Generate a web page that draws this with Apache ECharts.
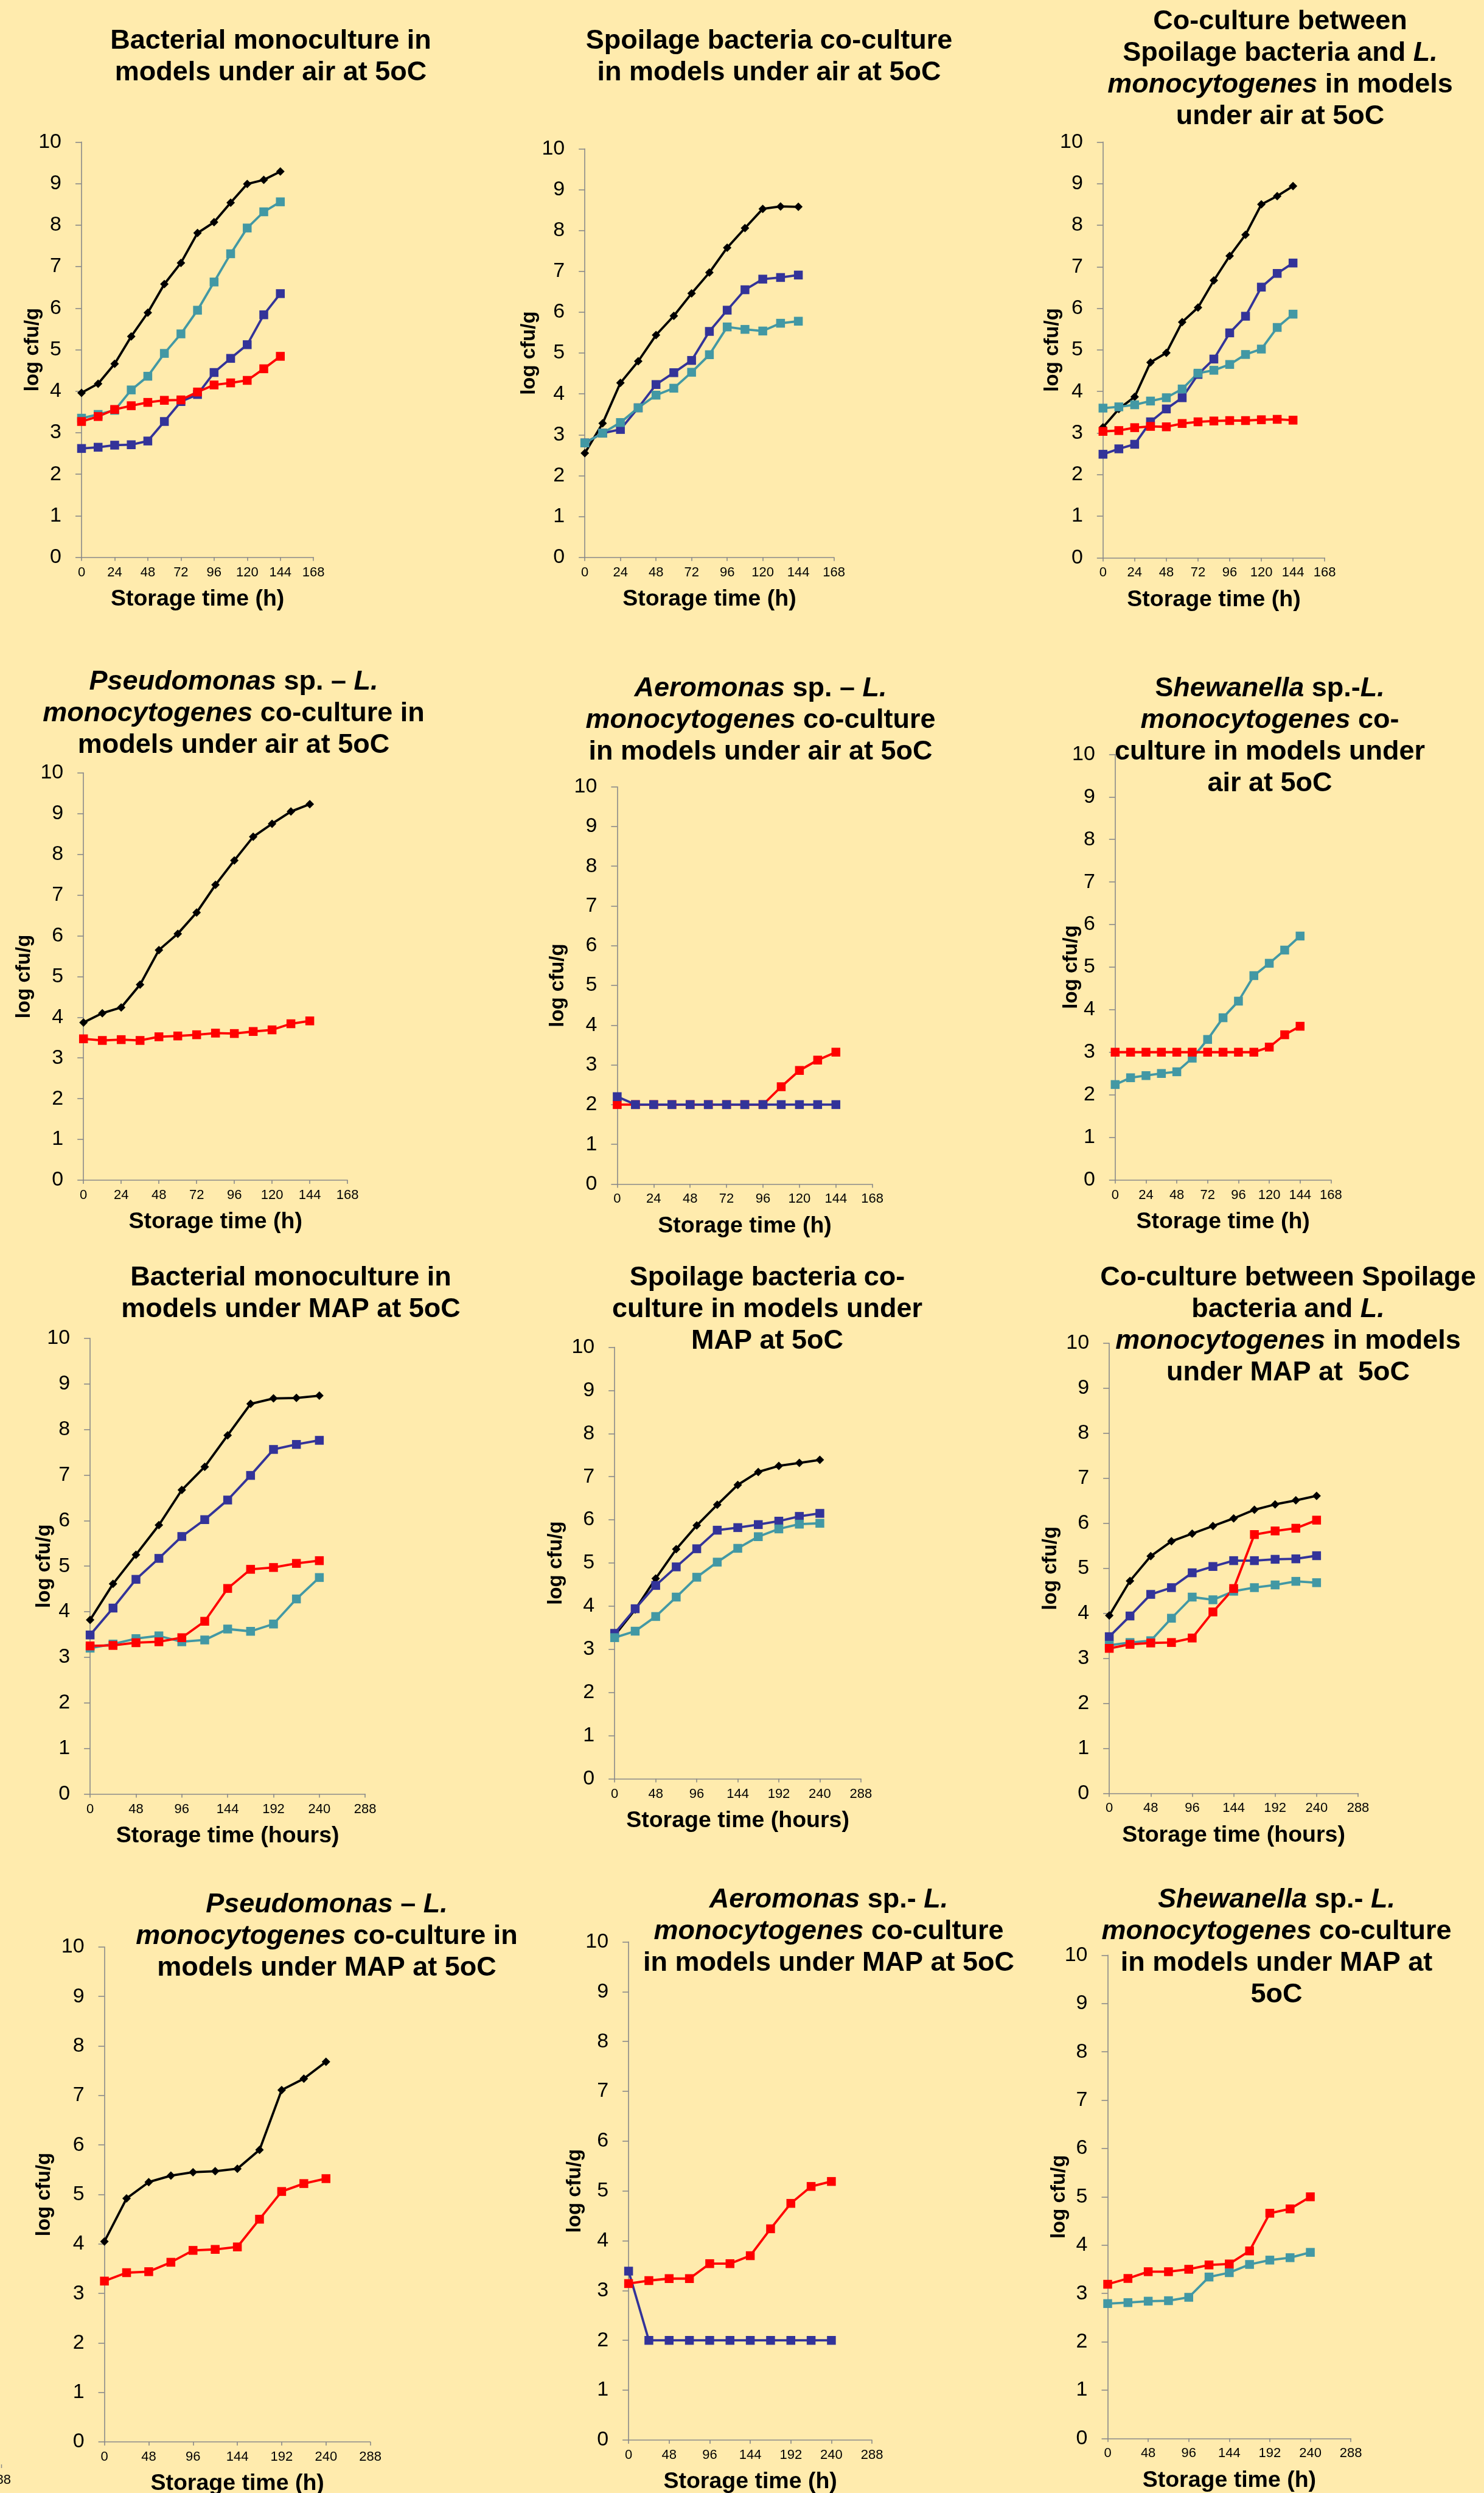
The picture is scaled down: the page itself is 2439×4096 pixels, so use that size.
<!DOCTYPE html>
<html><head><meta charset="utf-8">
<script src="https://cdn.jsdelivr.net/npm/echarts@6/dist/echarts.min.js"></script>
<style>html,body{margin:0;padding:0;background:#FFEBAD}#c{width:2439px;height:4096px}</style>
</head><body><div id="c"></div>
<script>
// ---------- DATA ----------
const tAir = [0, 12, 24, 36, 48, 60, 72, 84, 96, 108, 120, 132, 144];
const tMap = [0, 24, 48, 72, 96, 120, 144, 168, 192, 216, 240];
const xTicksAir = [0, 24, 48, 72, 96, 120, 144, 168];
const xTicksMap = [0, 48, 96, 144, 192, 240, 288];
const yTicks = [0, 1, 2, 3, 4, 5, 6, 7, 8, 9, 10];

const p1Black = [3.96, 4.18, 4.66, 5.32, 5.89, 6.58, 7.09, 7.81, 8.07, 8.54, 8.99, 9.09, 9.29];
const p1Blue  = [2.62, 2.65, 2.70, 2.71, 2.80, 3.27, 3.75, 3.92, 4.45, 4.79, 5.12, 5.84, 6.35];
const p1Teal  = [3.35, 3.44, 3.54, 4.03, 4.36, 4.91, 5.38, 5.95, 6.63, 7.31, 7.93, 8.32, 8.56];
const p1Red   = [3.27, 3.39, 3.56, 3.65, 3.73, 3.78, 3.79, 3.98, 4.15, 4.20, 4.26, 4.54, 4.84];

const p2Black = [2.55, 3.28, 4.27, 4.80, 5.44, 5.91, 6.46, 6.97, 7.58, 8.06, 8.53, 8.59, 8.58];
const p2Blue  = [2.80, 3.04, 3.13, 3.66, 4.23, 4.52, 4.82, 5.53, 6.05, 6.55, 6.81, 6.85, 6.91];
const p2Teal  = [2.80, 3.04, 3.30, 3.66, 3.97, 4.14, 4.53, 4.96, 5.64, 5.58, 5.54, 5.73, 5.78];

const p3Black = [3.14, 3.58, 3.87, 4.70, 4.93, 5.67, 6.02, 6.67, 7.26, 7.77, 8.50, 8.70, 8.94];
const p3Blue  = [2.49, 2.62, 2.73, 3.27, 3.58, 3.85, 4.41, 4.78, 5.41, 5.81, 6.51, 6.84, 7.09];
const p3Teal  = [3.60, 3.63, 3.68, 3.77, 3.85, 4.06, 4.44, 4.51, 4.65, 4.89, 5.02, 5.54, 5.86];
const p3Red   = [3.04, 3.06, 3.13, 3.16, 3.15, 3.23, 3.27, 3.29, 3.30, 3.30, 3.32, 3.33, 3.31];

const p4Black = [3.87, 4.10, 4.24, 4.80, 5.65, 6.05, 6.57, 7.25, 7.85, 8.43, 8.75, 9.05, 9.23];
const p4Red   = [3.47, 3.43, 3.45, 3.43, 3.52, 3.54, 3.57, 3.61, 3.60, 3.65, 3.69, 3.84, 3.91];

const p5Red   = [2.00, 2.00, 2.00, 2.00, 2.00, 2.00, 2.00, 2.00, 2.00, 2.45, 2.86, 3.12, 3.32];
const p5Blue  = [2.20, 2.00, 2.00, 2.00, 2.00, 2.00, 2.00, 2.00, 2.00, 2.00, 2.00, 2.00, 2.00];

const p6Teal  = [2.24, 2.40, 2.45, 2.50, 2.54, 2.86, 3.30, 3.81, 4.20, 4.80, 5.09, 5.40, 5.73];
const p6Red   = [3.00, 3.00, 3.00, 3.00, 3.00, 3.00, 3.00, 3.00, 3.00, 3.00, 3.12, 3.41, 3.61];

const p7Black = [3.82, 4.61, 5.25, 5.90, 6.67, 7.18, 7.87, 8.56, 8.68, 8.69, 8.74];
const p7Blue  = [3.49, 4.08, 4.71, 5.17, 5.65, 6.02, 6.45, 6.99, 7.56, 7.67, 7.76];
const p7Teal  = [3.20, 3.29, 3.41, 3.47, 3.34, 3.38, 3.62, 3.57, 3.73, 4.28, 4.75];
const p7Red   = [3.25, 3.26, 3.32, 3.34, 3.43, 3.79, 4.51, 4.93, 4.97, 5.06, 5.12];

const p8Black = [3.32, 3.92, 4.64, 5.32, 5.87, 6.35, 6.81, 7.11, 7.25, 7.32, 7.39];
const p8Blue  = [3.37, 3.94, 4.48, 4.91, 5.33, 5.76, 5.82, 5.89, 5.97, 6.08, 6.15];
const p8Teal  = [3.27, 3.42, 3.76, 4.21, 4.67, 5.02, 5.34, 5.61, 5.79, 5.90, 5.92];

const p9Black = [3.95, 4.72, 5.27, 5.60, 5.77, 5.94, 6.11, 6.30, 6.42, 6.51, 6.61];
const p9Blue  = [3.48, 3.94, 4.42, 4.57, 4.90, 5.04, 5.17, 5.17, 5.20, 5.21, 5.28];
const p9Teal  = [3.29, 3.35, 3.39, 3.89, 4.36, 4.30, 4.49, 4.57, 4.63, 4.71, 4.68];
const p9Red   = [3.22, 3.31, 3.34, 3.35, 3.45, 4.03, 4.55, 5.75, 5.83, 5.89, 6.07];

const p10Black = [4.05, 4.92, 5.25, 5.38, 5.45, 5.47, 5.52, 5.90, 7.11, 7.34, 7.68];
const p10Red   = [3.25, 3.42, 3.44, 3.63, 3.87, 3.89, 3.94, 4.50, 5.06, 5.22, 5.32];

const p11Blue = [3.39, 2.00, 2.00, 2.00, 2.00, 2.00, 2.00, 2.00, 2.00, 2.00, 2.00];
const p11Red  = [3.14, 3.20, 3.24, 3.24, 3.54, 3.54, 3.70, 4.24, 4.75, 5.09, 5.19];

const p12Teal = [2.79, 2.81, 2.84, 2.85, 2.92, 3.34, 3.43, 3.60, 3.69, 3.74, 3.85];
const p12Red  = [3.19, 3.31, 3.45, 3.45, 3.50, 3.59, 3.61, 3.88, 4.66, 4.75, 5.00];

const titles = [
  'Bacterial monoculture in\nmodels under air at 5oC',
  'Spoilage bacteria co-culture\nin models under air at 5oC',
  'Co-culture between\nSpoilage bacteria and {i|L.}\n{i|monocytogenes} in models\nunder air at 5oC',
  '{i|Pseudomonas} sp. – {i|L.}\n{i|monocytogenes} co-culture in\nmodels under air at 5oC',
  '{i|Aeromonas} sp. – {i|L.}\n{i|monocytogenes} co-culture\nin models under air at 5oC',
  'S{i|hewanella} sp.-{i|L.}\n{i|monocytogenes} co-\nculture in models under\nair at 5oC',
  'Bacterial monoculture in\nmodels under MAP at 5oC',
  'Spoilage bacteria co-\nculture in models under\nMAP at 5oC',
  'Co-culture between Spoilage\nbacteria and {i|L.}\n{i|monocytogenes} in models\nunder MAP at  5oC',
  '{i|Pseudomonas} – {i|L.}\n{i|monocytogenes} co-culture in\nmodels under MAP at 5oC',
  '{i|Aeromonas} sp.- {i|L.}\n{i|monocytogenes} co-culture\nin models under MAP at 5oC',
  '{i|Shewanella} sp.- {i|L.}\n{i|monocytogenes} co-culture\nin models under MAP at\n5oC'
];
const xNameH = 'Storage time (h)';
const xNameHours = 'Storage time (hours)';
const yName = 'log cfu/g';

// ---------- STYLE / LAYOUT ----------
const FONT = '"Liberation Sans", Arial, sans-serif';
const STY = {
  black: {color: '#000000', symbol: 'diamond', size: 14},
  blue:  {color: '#333399', symbol: 'rect', size: 14.5},
  teal:  {color: '#4298A4', symbol: 'rect', size: 14.5},
  red:   {color: '#FF0000', symbol: 'rect', size: 14.5}
};

const panels = [
  {g:[134.0, 233.4, 381.2, 682.2], air:true, tx:445, ty:42, xn:xNameH, yg:64,
   s:[['black',p1Black],['blue',p1Blue],['teal',p1Teal],['red',p1Red]]},
  {g:[961.2, 244.5, 409.4, 671.2], air:true, tx:1264, ty:42, xn:xNameH, yg:75,
   s:[['black',p2Black],['blue',p2Blue],['teal',p2Teal]]},
  {g:[1812.8, 233.4, 364.4, 683.0], air:true, tx:2104, ty:9.6, xn:xNameH, yg:66,
   s:[['black',p3Black],['blue',p3Blue],['teal',p3Teal],['red',p3Red]]},
  {g:[137.2, 1269.8, 433.9, 669.2], air:true, tx:384, ty:1094.7, xn:xNameH, yg:81,
   s:[['black',p4Black],['red',p4Red]]},
  {g:[1014.4, 1292.7, 419.3, 652.7], air:true, tx:1250, ty:1106, xn:xNameH, yg:81,
   s:[['red',p5Red],['blue',p5Blue]]},
  {g:[1832.8, 1239.4, 354.6, 699.1], air:true, tx:2087, ty:1106, xn:xNameH, yg:55,
   s:[['teal',p6Teal],['red',p6Red]]},
  {g:[148.1, 2198.7, 452.1, 748.9], air:false, tx:478, ty:2073.5, xn:xNameHours, yg:58.5,
   s:[['black',p7Black],['blue',p7Blue],['teal',p7Teal],['red',p7Red]]},
  {g:[1010.2, 2213.5, 404.7, 709.0], air:false, tx:1261, ty:2073.5, xn:xNameHours, yg:79.5,
   s:[['black',p8Black],['blue',p8Blue],['teal',p8Teal]]},
  {g:[1823.1, 2207.1, 408.9, 739.2], air:false, tx:2117, ty:2073.5, xn:xNameHours, yg:80,
   s:[['black',p9Black],['blue',p9Blue],['teal',p9Teal],['red',p9Red]]},
  {g:[171.6, 3198.9, 437.0, 813.2], air:false, tx:537, ty:3104, xn:xNameH, yg:82,
   s:[['black',p10Black],['red',p10Red]]},
  {g:[1033.1, 3190.5, 400.0, 818.4], air:false, tx:1362, ty:3095.5, xn:xNameH, yg:72,
   s:[['blue',p11Blue],['red',p11Red]]},
  {g:[1820.5, 3212.4, 399.7, 793.9], air:false, tx:2098, ty:3095.5, xn:xNameH, yg:63.5,
   s:[['teal',p12Teal],['red',p12Red]]}
];

const axisGrey = '#8A8A8A';
const option = {
  backgroundColor: '#FFEBAD',
  animation: false,
  title: [], grid: [], xAxis: [], yAxis: [], series: [],
  graphic: [
    {type: 'text', x: 18, y: 4075, silent: true,
     style: {text: '288', font: '22px ' + FONT, fill: '#000', textAlign: 'right', align: 'right',
             textVerticalAlign: 'middle', verticalAlign: 'middle'}},
    {type: 'line', silent: true, shape: {x1: 2.5, y1: 4049, x2: 2.5, y2: 4055},
     style: {stroke: axisGrey, lineWidth: 1.5}}
  ]
};

panels.forEach((p, k) => {
  const ticks = p.air ? xTicksAir : xTicksMap;
  const times = p.air ? tAir : tMap;
  option.title.push({
    text: titles[k], left: p.tx, top: p.ty, textAlign: 'center', padding: 0,
    textStyle: {
      fontFamily: FONT, fontSize: 45, fontWeight: 'bold', color: '#000', lineHeight: 52,
      rich: {i: {fontFamily: FONT, fontSize: 45, fontWeight: 'bold', fontStyle: 'italic', color: '#000', lineHeight: 52}}
    }
  });
  option.grid.push({left: p.g[0], top: p.g[1], width: p.g[2], height: p.g[3],
                    containLabel: false, outerBoundsMode: 'none'});
  option.xAxis.push({
    type: 'value', gridIndex: k, min: ticks[0], max: ticks[ticks.length - 1],
    interval: ticks[1] - ticks[0],
    name: p.xn, nameLocation: 'middle', nameGap: 50, nameMoveOverlap: false,
    nameTextStyle: {fontFamily: FONT, fontSize: 37.5, fontWeight: 'bold', color: '#000'},
    axisLine: {show: true, onZero: false, lineStyle: {color: axisGrey, width: 1.6}},
    axisTick: {show: true, length: 6, lineStyle: {color: axisGrey, width: 1.6}},
    axisLabel: {show: true, fontFamily: FONT, fontSize: 22, color: '#000', margin: 14,
                showMinLabel: true, showMaxLabel: true, hideOverlap: false},
    splitLine: {show: false}
  });
  option.yAxis.push({
    type: 'value', gridIndex: k, min: yTicks[0], max: yTicks[yTicks.length - 1],
    interval: yTicks[1] - yTicks[0],
    name: yName, nameLocation: 'middle', nameGap: p.yg, nameMoveOverlap: false,
    nameTextStyle: {fontFamily: FONT, fontSize: 33, fontWeight: 'bold', color: '#000'},
    axisLine: {show: true, onZero: false, lineStyle: {color: axisGrey, width: 1.6}},
    axisTick: {show: true, length: 10, lineStyle: {color: axisGrey, width: 1.6}},
    axisLabel: {show: true, fontFamily: FONT, fontSize: 34, color: '#000', margin: 33,
                showMinLabel: true, showMaxLabel: true, hideOverlap: false},
    splitLine: {show: false}
  });
  p.s.forEach(([kind, vals]) => {
    const st = STY[kind];
    option.series.push({
      type: 'line', xAxisIndex: k, yAxisIndex: k,
      data: times.map((t, i) => [t, vals[i]]),
      symbol: st.symbol, symbolSize: st.size, showSymbol: true, showAllSymbol: true,
      lineStyle: {color: st.color, width: 3.8},
      itemStyle: {color: st.color, borderWidth: 0},
      emphasis: {disabled: true}, silent: true
    });
  });
});

const chart = echarts.init(document.getElementById('c'), null, {renderer: 'canvas'});
chart.setOption(option);
</script>
</body></html>
